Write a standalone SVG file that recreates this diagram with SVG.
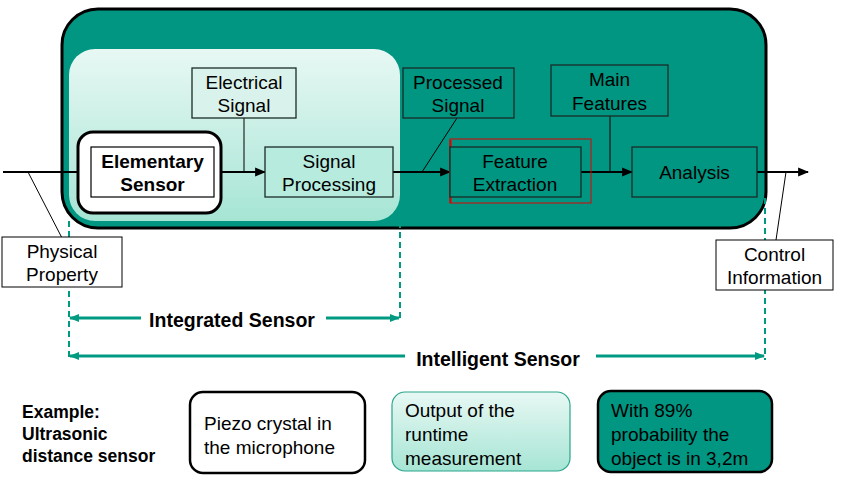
<svg xmlns="http://www.w3.org/2000/svg" width="841" height="489" viewBox="0 0 841 489">
<defs>
<linearGradient id="lg" x1="0" y1="0" x2="0" y2="1">
<stop offset="0" stop-color="#e8f8f4"/>
<stop offset="1" stop-color="#a6e5d4"/>
</linearGradient>
<marker id="ah" viewBox="0 0 10 10" refX="9" refY="5" markerWidth="5" markerHeight="5" orient="auto-start-reverse" markerUnits="strokeWidth">
<path d="M0,1 L10,5 L0,9 z" fill="#000"/>
</marker>
<marker id="th" viewBox="0 0 10 10" refX="9" refY="5" markerWidth="3.5" markerHeight="3.5" orient="auto-start-reverse" markerUnits="strokeWidth">
<path d="M0,1 L10,5 L0,9 z" fill="#009a82"/>
</marker>
</defs>
<style>
text{font-family:"Liberation Sans",Arial,sans-serif;font-size:19px;fill:#000}
.c{text-anchor:middle}
.b{font-weight:bold}
.ex{font-size:17.5px;font-weight:bold}
.dl{font-size:19.5px;font-weight:bold}
.box{stroke:#1b2b27;stroke-width:1.3}
.tn{fill:#009682}
.ln{stroke:#000;stroke-width:2.2;fill:none}
.thin{stroke:#000;stroke-width:1;fill:none}
.dash{stroke:#009a82;stroke-width:2;stroke-dasharray:6,4;fill:none}
.dim{stroke:#009a82;stroke-width:3;fill:none}
</style>
<g id="intelligent-box">
<rect x="62" y="9" width="704" height="219" rx="36" fill="#009682" stroke="#000" stroke-width="3"/>
</g>
<g id="integrated-box">
<rect x="69" y="49" width="331" height="172" rx="26" fill="url(#lg)"/>
</g>
<g id="dashes">
<line class="dash" x1="69" y1="221" x2="69" y2="360"/>
<line class="dash" x1="400" y1="222" x2="400" y2="320"/>
<line class="dash" x1="765" y1="198" x2="765" y2="360"/>
</g>
<g id="connectors">
<line class="ln" x1="3" y1="172" x2="91" y2="172" marker-end="url(#ah)"/>
<line class="ln" x1="214" y1="172" x2="265" y2="172" marker-end="url(#ah)"/>
<line class="ln" x1="393" y1="172" x2="450" y2="172" marker-end="url(#ah)"/>
<line class="ln" x1="581" y1="172" x2="632" y2="172" marker-end="url(#ah)"/>
<line class="ln" x1="757" y1="172" x2="808" y2="172" marker-end="url(#ah)"/>
<line class="thin" x1="244" y1="118" x2="244" y2="172"/>
<line class="thin" x1="457" y1="118" x2="422" y2="172"/>
<line class="thin" x1="610" y1="116" x2="610" y2="172"/>
<line class="thin" x1="28" y1="172" x2="62" y2="238"/>
<line class="thin" x1="786" y1="172" x2="776" y2="240"/>
</g>
<g id="elementary-sensor">
<rect x="78" y="132" width="143" height="81" rx="15" fill="#fff" stroke="#000" stroke-width="3"/>
<rect x="91" y="147" width="123" height="50" fill="#fff" stroke="#000" stroke-width="1.2"/>
<text class="c b" x="152.5" y="168">Elementary</text>
<text class="c b" x="152.5" y="191">Sensor</text>
</g>
<g id="electrical-signal">
<rect class="box" x="192" y="68" width="104" height="50" fill="#d9f3ec"/>
<text class="c" x="244" y="89">Electrical</text>
<text class="c" x="244" y="112">Signal</text>
</g>
<g id="signal-processing">
<rect class="box" x="265" y="147" width="128" height="50" fill="#b6ebdd"/>
<text class="c" x="329" y="168">Signal</text>
<text class="c" x="329" y="191">Processing</text>
</g>
<g id="processed-signal">
<rect class="box tn" x="403" y="68" width="111" height="50"/>
<text class="c" x="458" y="89">Processed</text>
<text class="c" x="458" y="112">Signal</text>
</g>
<g id="feature-extraction">
<rect x="450" y="139" width="141" height="64" fill="none" stroke="#e00000" stroke-width="1"/>
<line x1="450.5" y1="140" x2="450.5" y2="203" stroke="#e00000" stroke-width="2"/>
<rect class="box tn" x="450" y="147" width="131" height="50"/>
<text class="c" x="515" y="168">Feature</text>
<text class="c" x="515" y="191">Extraction</text>
</g>
<g id="main-features">
<rect class="box tn" x="551" y="65" width="117" height="51"/>
<text class="c" x="609.5" y="86">Main</text>
<text class="c" x="609.5" y="110">Features</text>
</g>
<g id="analysis">
<rect class="box tn" x="632" y="147" width="125" height="50"/>
<text class="c" x="694.5" y="179">Analysis</text>
</g>
<g id="physical-property">
<rect x="2" y="237" width="120" height="50" fill="#fff" stroke="#000" stroke-width="1"/>
<text class="c" x="62" y="258">Physical</text>
<text class="c" x="62" y="281">Property</text>
</g>
<g id="control-information">
<rect x="716" y="240" width="117" height="50" fill="#fff" stroke="#000" stroke-width="1"/>
<text class="c" x="774.5" y="261">Control</text>
<text class="c" x="774.5" y="284">Information</text>
</g>
<g id="integrated-dim">
<line class="dim" x1="70" y1="318" x2="141" y2="318" marker-start="url(#th)"/>
<line class="dim" x1="326" y1="318" x2="399" y2="318" marker-end="url(#th)"/>
<text class="c dl" x="232" y="327">Integrated Sensor</text>
</g>
<g id="intelligent-dim">
<line class="dim" x1="70" y1="356" x2="405" y2="356" marker-start="url(#th)"/>
<line class="dim" x1="596" y1="356" x2="764" y2="356" marker-end="url(#th)"/>
<text class="c dl" x="498" y="366">Intelligent Sensor</text>
</g>
<g id="example-label">
<text class="ex" x="22" y="418">Example:</text>
<text class="ex" x="22" y="440">Ultrasonic</text>
<text class="ex" x="22" y="462">distance sensor</text>
</g>
<g id="example-1">
<rect x="190" y="392" width="175" height="81" rx="13" fill="#fff" stroke="#000" stroke-width="2.5"/>
<text x="204" y="430">Piezo crystal in</text>
<text x="204" y="454">the microphone</text>
</g>
<g id="example-2">
<rect x="392" y="392" width="178" height="79" rx="13" fill="url(#lg)" stroke="#2aa58c" stroke-width="1.2"/>
<text x="405" y="417">Output of the</text>
<text x="405" y="441">runtime</text>
<text x="405" y="465">measurement</text>
</g>
<g id="example-3">
<rect x="598" y="391" width="174" height="81" rx="13" fill="#009682" stroke="#000" stroke-width="2.5"/>
<text x="611" y="417">With 89%</text>
<text x="611" y="441">probability the</text>
<text x="611" y="465">object is in 3,2m</text>
</g>
</svg>
